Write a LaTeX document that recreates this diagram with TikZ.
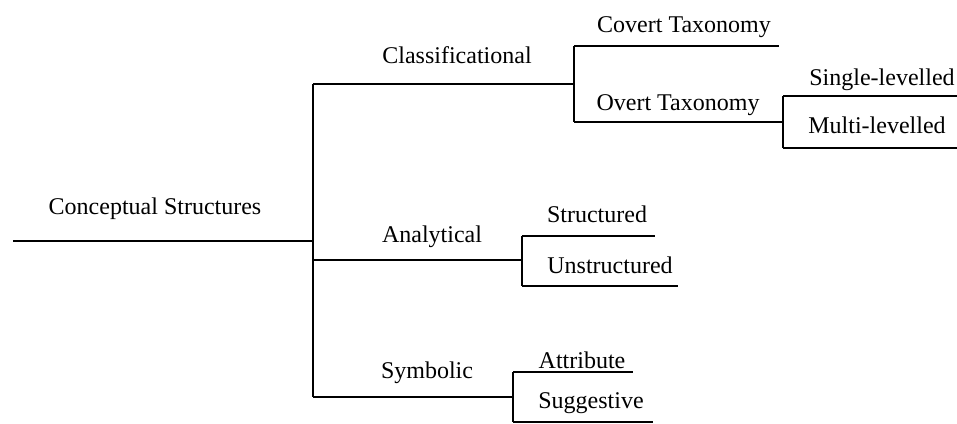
\documentclass[tikz,border=0pt]{standalone}
\usepackage{fontspec}
\setmainfont{Liberation Serif}
\begin{document}
\begin{tikzpicture}[x=1pt,y=-1pt,
  branch/.style={line width=2.6pt,line cap=butt,line join=miter},
  lbl/.style={anchor=base,inner sep=0pt,font=\fontsize{24}{28}\selectfont}]
\useasboundingbox (0,0) rectangle (957,423);
% coordinates
\coordinate (r0) at (13,241);
\coordinate (r1) at (313,241);
\coordinate (t1) at (313,84);
\coordinate (t3) at (313,397);
\coordinate (t2) at (313,260);
\coordinate (c1) at (574,84);
\coordinate (cTop) at (574,46);
\coordinate (cBot) at (574,122);
\coordinate (cvE) at (779,46);
\coordinate (ovE) at (783,122);
\coordinate (oTop) at (783,96);
\coordinate (oBot) at (783,148);
\coordinate (slE) at (957,96);
\coordinate (mlE) at (957,148);
\coordinate (a1) at (522,260);
\coordinate (aTop) at (522,236);
\coordinate (aBot) at (522,286);
\coordinate (stE) at (655,236);
\coordinate (unE) at (678,286);
\coordinate (s1) at (513,397);
\coordinate (sTop) at (513,372);
\coordinate (sBot) at (513,422);
\coordinate (atE) at (633,372);
\coordinate (suE) at (653,422);
% lines
\draw[branch] (r0) -- (r1);
\draw[branch] (t1) -- (t3);
\draw[branch] (t1) -- (c1);
\draw[branch] (cTop) -- (cBot);
\draw[branch] (cTop) -- (cvE);
\draw[branch] (cBot) -- (ovE);
\draw[branch] (oTop) -- (oBot);
\draw[branch] (oTop) -- (slE);
\draw[branch] (oBot) -- (mlE);
\draw[branch] (t2) -- (a1);
\draw[branch] (aTop) -- (aBot);
\draw[branch] (aTop) -- (stE);
\draw[branch] (aBot) -- (unE);
\draw[branch] (t3) -- (s1);
\draw[branch] (sTop) -- (sBot);
\draw[branch] (sTop) -- (atE);
\draw[branch] (sBot) -- (suE);
% labels
\node[lbl] (root) at (155,214) {Conceptual Structures};
\node[lbl] (cls) at (457,63) {Classificational};
\node[lbl] (cov) at (684,32) {Covert Taxonomy};
\node[lbl] (ovt) at (678,110) {Overt Taxonomy};
\node[lbl] (sgl) at (882,85) {Single-levelled};
\node[lbl] (mul) at (877,133) {Multi-levelled};
\node[lbl] (ana) at (432,242) {Analytical};
\node[lbl] (str) at (597,222) {Structured};
\node[lbl] (uns) at (610,273) {Unstructured};
\node[lbl] (sym) at (427,378) {Symbolic};
\node[lbl] (att) at (582,368) {Attribute};
\node[lbl] (sug) at (591,408) {Suggestive};
\end{tikzpicture}
\end{document}
